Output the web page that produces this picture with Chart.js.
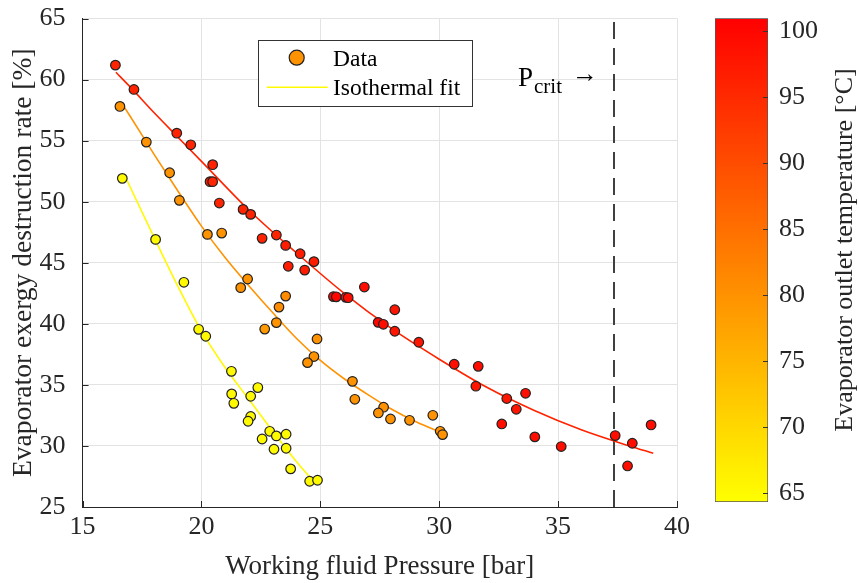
<!DOCTYPE html>
<html>
<head>
<meta charset="utf-8">
<script src="https://cdn.jsdelivr.net/npm/chart.js@4.4.0/dist/chart.umd.min.js"></script>
<style>
  body { margin: 0; background: #fff; }
  #wrap { position: relative; width: 859px; height: 583px; }
  #main, #cbar { position: absolute; top: 0; }
  #main { left: 0; }
  #cbar { left: 700px; }
</style>
</head>
<body>
<div id="wrap">
  <canvas id="main" width="859" height="583"></canvas>
  <canvas id="cbar" width="159" height="583"></canvas>
</div>
<script>
// measured points: pressure [bar], exergy destruction [%], outlet temperature [°C]
const pressure = [
  // ~65 °C
  16.67, 18.07, 19.26, 19.88, 20.18, 21.26, 22.37, 21.27, 21.36, 22.07, 22.07,
  21.96, 22.87, 23.15, 23.56, 22.55, 23.05, 23.56, 23.75, 24.55, 24.88,
  // ~80 °C
  16.57, 17.68, 18.66, 19.07, 20.25, 20.85, 21.94, 21.65, 23.54, 23.26, 23.15,
  22.66, 24.86, 24.73, 24.46, 26.35, 26.45, 27.66, 27.44, 27.95, 28.75, 29.73,
  30.04, 30.14,
  // ~95-100 °C
  16.38, 17.16, 18.96, 19.55, 20.47, 20.36, 20.47, 20.75, 21.75, 22.07, 22.55,
  23.15, 23.54, 24.15, 24.73, 23.65, 24.34, 25.55, 25.67, 26.07, 26.17, 26.85,
  28.13, 27.43, 27.65, 28.13, 29.14, 30.63, 31.64, 31.54, 32.84, 33.63, 33.24,
  32.63, 34.02, 35.13, 37.40, 38.12, 37.92, 38.91
];
const destruction = [
  51.91, 46.91, 43.40, 39.55, 38.98, 36.11, 34.78, 34.26, 33.49, 34.07, 32.41,
  32.02, 31.20, 30.82, 30.96, 30.57, 29.73, 29.81, 28.12, 27.11, 27.19,
  57.80, 54.88, 52.37, 50.11, 47.32, 47.43, 43.67, 42.96, 42.27, 41.37, 40.10,
  39.57, 38.76, 37.32, 36.82, 35.29, 33.82, 33.17, 32.70, 32.21, 32.10, 32.51,
  31.20, 30.93,
  61.18, 59.19, 55.61, 54.66, 53.03, 51.64, 51.64, 49.89, 49.37, 48.96, 47.00,
  47.27, 46.42, 45.74, 45.09, 44.71, 44.40, 42.23, 42.21, 42.17, 42.14, 43.01,
  41.15, 40.12, 39.96, 39.39, 38.49, 36.69, 36.52, 34.89, 33.88, 34.31, 33.00,
  31.80, 30.74, 29.95, 30.85, 30.22, 28.36, 31.72
];
const outletTemp = [
  65, 65, 65, 65, 65, 65, 65, 65, 65, 65, 65,
  65, 65, 65, 65, 65, 65, 65, 65, 65, 65,
  80, 80, 80, 80, 80, 80, 80, 80, 81, 81, 80,
  79, 80, 80, 80, 80, 80, 80, 80, 80, 80, 80,
  80, 80,
  96, 96, 96, 96, 96, 96, 96, 96, 96, 96, 96,
  96, 97, 97, 97, 97, 97, 100, 100, 99, 99, 99,
  98, 100, 99, 98, 98, 99, 99, 98, 98, 99, 98,
  99, 99, 99, 99, 99, 99, 99
];

// isothermal fit curves
const fit65P = [16.74, 17, 18, 19, 20, 21, 22, 23, 24, 24.8];
const fit65D = [52.3, 51.2, 47.1, 43.1, 39.4, 36.4, 33.8, 31.2, 28.7, 26.9];
const fit80P = [16.6, 17, 18, 19, 20, 21, 22, 23, 24, 25, 26, 27, 28, 29, 30.2];
const fit80D = [58.2, 57.0, 53.9, 50.9, 48.0, 45.4, 43.1, 40.9, 38.8, 37.0, 35.5, 34.2, 33.0, 32.0, 31.0];
const fit96P = [16.4, 17, 18, 19, 20, 22, 24, 26, 28, 30, 32, 34, 36, 38, 39];
const fit96D = [60.6, 59.4, 57.3, 55.3, 53.3, 49.3, 45.8, 42.5, 39.6, 37.1, 34.8, 32.9, 31.3, 30.0, 29.4];

const pCrit = 37.35;
const xTicks = [15, 20, 25, 30, 35, 40];
const yTicks = [25, 30, 35, 40, 45, 50, 55, 60, 65];
const cbTicks = [65, 70, 75, 80, 85, 90, 95, 100];
const cbMin = 64.3, cbMax = 101;

// MATLAB "autumn" map, flipped: yellow at low temperature, red at high
function autumn(t) {
  let f = (t - cbMin) / (cbMax - cbMin);
  f = Math.max(0, Math.min(1, f));
  return 'rgb(255,' + Math.round(255 * (1 - f)) + ',0)';
}

const serif = '"Liberation Serif", "Times New Roman", serif';
Chart.defaults.font.family = serif;
Chart.defaults.font.size = 26;
Chart.defaults.color = '#262626';

const axisColor = '#262626';
const gridColor = '#e3e3e3';
// tiny line height keeps vertical tick labels from pushing the plot area down
const vTickFont = { family: serif, size: 26, lineHeight: 0.1 };

function pts(xs, ys) {
  return xs.map((x, i) => ({ x: x, y: ys[i] }));
}

const fitLine = (label, xs, ys, temp) => ({
  type: 'line', label: label, data: pts(xs, ys),
  borderColor: autumn(temp), borderWidth: 1.6,
  pointRadius: 0, fill: false, cubicInterpolationMode: 'monotone'
});

const mainExtras = {
  id: 'mainExtras',
  afterDraw(chart) {
    const ctx = chart.ctx;
    const xs = chart.scales.x, ys = chart.scales.y;
    const a = chart.chartArea;
    ctx.save();
    // inward ticks, MATLAB style
    ctx.strokeStyle = axisColor;
    ctx.lineWidth = 1;
    ctx.beginPath();
    xTicks.forEach(v => {
      const px = Math.round(xs.getPixelForValue(v)) + 0.5;
      ctx.moveTo(px, a.bottom); ctx.lineTo(px, a.bottom - 6);
    });
    yTicks.forEach(v => {
      const py = Math.round(ys.getPixelForValue(v)) + 0.5;
      ctx.moveTo(a.left, py); ctx.lineTo(a.left + 6, py);
    });
    ctx.stroke();

    // legend box
    ctx.fillStyle = '#fff';
    ctx.fillRect(258.5, 40.5, 214, 66);
    ctx.strokeStyle = '#333';
    ctx.strokeRect(258.5, 40.5, 214, 66);
    ctx.beginPath();
    ctx.arc(296.7, 57.7, 7.5, 0, Math.PI * 2);
    ctx.fillStyle = autumn(80);
    ctx.fill();
    ctx.lineWidth = 1.2;
    ctx.strokeStyle = '#222';
    ctx.stroke();
    ctx.beginPath();
    ctx.moveTo(266.7, 87.3); ctx.lineTo(327.7, 87.3);
    ctx.strokeStyle = autumn(65);
    ctx.lineWidth = 1.6;
    ctx.stroke();
    ctx.fillStyle = '#000';
    ctx.font = '23.5px ' + serif;
    ctx.textBaseline = 'alphabetic';
    ctx.textAlign = 'left';
    ctx.fillText('Data', 333, 66);
    ctx.fillText('Isothermal fit', 333, 95);

    // critical pressure label
    ctx.font = '27px ' + serif;
    ctx.fillText('P', 518, 86);
    ctx.font = '21px ' + serif;
    ctx.fillText('crit', 534, 93);
    ctx.font = '26px ' + serif;
    ctx.textBaseline = 'middle';
    ctx.fillText('\u2192', 572, 75);
    ctx.restore();
  }
};

new Chart(document.getElementById('main'), {
  data: {
    datasets: [
      {
        type: 'scatter', label: 'Data',
        data: pts(pressure, destruction),
        backgroundColor: outletTemp.map(autumn),
        borderColor: '#222', borderWidth: 1.2,
        pointRadius: 4.8, pointHoverRadius: 4.8
      },
      fitLine('Isothermal fit 65', fit65P, fit65D, 65),
      fitLine('Isothermal fit 80', fit80P, fit80D, 80),
      fitLine('Isothermal fit 96', fit96P, fit96D, 96),
      {
        type: 'line', label: 'P crit',
        data: [{ x: pCrit, y: 25 }, { x: pCrit, y: 65 }],
        borderColor: '#404040', borderWidth: 2, borderDash: [17, 9],
        pointRadius: 0, fill: false
      }
    ]
  },
  options: {
    responsive: false,
    animation: false,
    layout: { autoPadding: false, padding: { top: 18.5, right: 182, bottom: 0, left: 0 } },
    plugins: { legend: { display: false }, tooltip: { enabled: false } },
    scales: {
      x: {
        type: 'linear', min: 15, max: 40,
        afterBuildTicks: s => { s.ticks = xTicks.map(v => ({ value: v })); },
        afterFit: s => { s.height = 76; },
        ticks: { padding: 5, color: axisColor },
        grid: { color: gridColor, drawTicks: false },
        border: { color: axisColor, width: 1 },
        title: { display: true, text: 'Working fluid Pressure [bar]', color: axisColor, font: { size: 27 }, padding: { top: 5, bottom: 0 } }
      },
      y: {
        type: 'linear', min: 25, max: 65,
        afterBuildTicks: s => { s.ticks = yTicks.map(v => ({ value: v })); },
        afterFit: s => { s.width = 82.6; },
        ticks: { padding: 17, color: axisColor, font: vTickFont },
        grid: { color: gridColor, drawTicks: false },
        border: { color: axisColor, width: 1 },
        title: { display: true, text: 'Evaporator exergy destruction rate [%]', color: axisColor, font: { size: 27.5 }, padding: { top: 7, bottom: 0 } }
      }
    }
  },
  plugins: [mainExtras]
});

// colour bar
const cbExtras = {
  id: 'cbExtras',
  afterDraw(chart) {
    const ctx = chart.ctx;
    const ys = chart.scales.y;
    const a = chart.chartArea;
    ctx.save();
    ctx.strokeStyle = '#333';
    ctx.lineWidth = 1;
    ctx.beginPath();
    cbTicks.forEach(v => {
      const py = Math.round(ys.getPixelForValue(v)) + 0.5;
      ctx.moveTo(a.right, py); ctx.lineTo(a.right - 5, py);
    });
    ctx.stroke();
    ctx.translate(145, 250);
    ctx.rotate(-Math.PI / 2);
    ctx.font = '26px ' + serif;
    ctx.fillStyle = axisColor;
    ctx.textAlign = 'center';
    ctx.textBaseline = 'middle';
    ctx.fillText('Evaporator outlet temperature [\u00B0C]', 0, 0);
    ctx.restore();
  }
};

new Chart(document.getElementById('cbar'), {
  type: 'bar',
  data: {
    labels: [''],
    datasets: [{
      data: [[cbMin, cbMax]],
      backgroundColor: c => {
        const ch = c.chart;
        if (!ch.chartArea) return autumn(80);
        const ys = ch.scales.y;
        const g = ch.ctx.createLinearGradient(0, ys.getPixelForValue(cbMin), 0, ys.getPixelForValue(cbMax));
        g.addColorStop(0, autumn(cbMin));
        g.addColorStop(1, autumn(cbMax));
        return g;
      },
      borderColor: '#555', borderWidth: 1, borderSkipped: false,
      barPercentage: 1, categoryPercentage: 1
    }]
  },
  options: {
    responsive: false,
    animation: false,
    layout: { autoPadding: false, padding: { left: 15, top: 18.3, bottom: 81, right: 0 } },
    plugins: { legend: { display: false }, tooltip: { enabled: false } },
    scales: {
      x: { display: false },
      y: {
        position: 'right', min: cbMin, max: cbMax,
        afterBuildTicks: s => { s.ticks = cbTicks.map(v => ({ value: v })); },
        afterFit: s => { s.width = 91; },
        ticks: { padding: 11, color: axisColor, font: vTickFont },
        grid: { display: false, drawTicks: false },
        border: { display: false }
      }
    }
  },
  plugins: [cbExtras]
});
</script>
</body>
</html>
